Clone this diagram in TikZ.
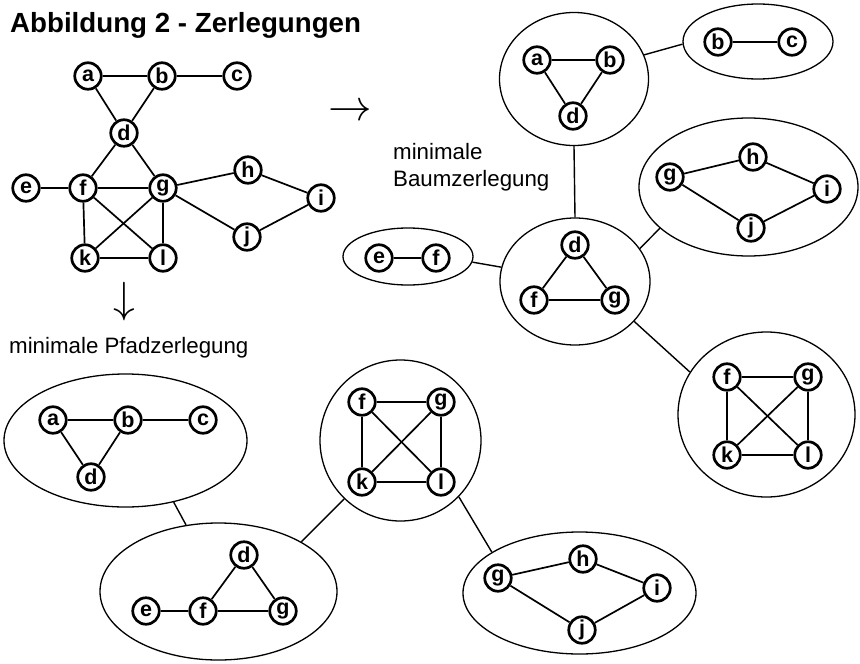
\documentclass[tikz,border=0pt]{standalone}
\usepackage{fontspec}
\setmainfont{Liberation Sans}
\usetikzlibrary{shapes.geometric}
\begin{document}
\begin{tikzpicture}[x=1pt,y=-1pt,
  vtx/.style={circle,draw,fill=white,line width=2.7pt,minimum size=26.5pt,inner sep=0pt,font=\fontsize{21.5}{21.5}\selectfont\bfseries},
  blob/.style={ellipse,draw,line width=1.3pt,inner sep=0pt},
  edg/.style={line width=1.7pt},
  link/.style={line width=1.4pt},
  lbl/.style={inner sep=0pt,anchor=base west,font=\fontsize{22.3}{26}\selectfont},
  arr/.style={inner sep=0pt,font=\fontsize{20.74}{20.74}\selectfont}]
\useasboundingbox (0,0) rectangle (860,664);

% texts
\node[inner sep=0pt,anchor=base west,font=\fontsize{27.7}{27.7}\selectfont\bfseries] (title) at (10,32.5) {Abbildung 2 - Zerlegungen};
\node[arr] (rarrow) at (350,113) {\scalebox{2.1}{$\rightarrow$}};
\node[arr] (darrow) at (124,302) {\scalebox{2.1}{$\downarrow$}};
\node[lbl] (plabel) at (9,353.3) {minimale Pfadzerlegung};
\node[lbl] (blabel1) at (393,159.3) {minimale};
\node[lbl] (blabel2) at (393,186) {Baumzerlegung};

% blobs (tree decomposition)
\node[blob,minimum width=149pt,minimum height=133pt] (TA) at (574,79) {};
\node[blob,minimum width=150pt,minimum height=75pt] (TB) at (758,41.5) {};
\node[blob,minimum width=219pt,minimum height=138pt] (TG) at (748.5,187) {};
\node[blob,minimum width=130pt,minimum height=57pt] (TE) at (408,256.5) {};
\node[blob,minimum width=150pt,minimum height=127pt] (TD) at (575,281.5) {};
\node[blob,minimum width=177pt,minimum height=165pt] (TF) at (766.5,414.5) {};
% blobs (path decomposition)
\node[blob,minimum width=243pt,minimum height=133pt] (PA) at (125.5,440.5) {};
\node[blob,minimum width=237pt,minimum height=137pt] (PD) at (218.5,591.5) {};
\node[blob,minimum width=161pt,minimum height=161pt] (PF) at (400.5,440.5) {};
\node[blob,minimum width=233pt,minimum height=122pt] (PG) at (579.5,593) {};

% connectors between blobs
\draw[link] (TA.19) -- (TB.182);
\draw[link] (TA.south) -- (TD.north);
\draw[link] (TE.-5) -- (TD.169);
\draw[link] (TD.27) -- (TG.205.6);
\draw[link] (TD.-34.5) -- (TF.151);
\draw[link] (PA.-52) -- (PD.116.7);
\draw[link] (PD.31.7) -- (PF.226);
\draw[link] (PF.-44.5) -- (PG.155.4);

% original graph
\node[vtx] (Ga) at (88,76) {a};
\node[vtx] (Gb) at (162,76) {b};
\node[vtx] (Gc) at (237,76) {c};
\node[vtx] (Gd) at (124,133) {d};
\node[vtx] (Ge) at (26,188) {e};
\node[vtx] (Gf) at (83,188) {f};
\node[vtx] (Gg) at (163,188) {g};
\node[vtx] (Gh) at (248,170) {h};
\node[vtx] (Gi) at (321,198) {i};
\node[vtx] (Gj) at (247,237) {j};
\node[vtx] (Gk) at (85,258) {k};
\node[vtx] (Gl) at (163,258) {l};

% tree decomposition vertices
\node[vtx] (TAa) at (537,60) {a};
\node[vtx] (TAb) at (610,60) {b};
\node[vtx] (TAd) at (573,116) {d};
\node[vtx] (TBb) at (718,42) {b};
\node[vtx] (TBc) at (792,42) {c};
\node[vtx] (TGg) at (670,177) {g};
\node[vtx] (TGh) at (753,157) {h};
\node[vtx] (TGi) at (827,189) {i};
\node[vtx] (TGj) at (751,228) {j};
\node[vtx] (TEe) at (379,258) {e};
\node[vtx] (TEf) at (436,258) {f};
\node[vtx] (TDd) at (575,245) {d};
\node[vtx] (TDf) at (534,300) {f};
\node[vtx] (TDg) at (615,300) {g};
\node[vtx] (TFf) at (727,377) {f};
\node[vtx] (TFg) at (808,377) {g};
\node[vtx] (TFk) at (727,455) {k};
\node[vtx] (TFl) at (808,455) {l};

% path decomposition vertices
\node[vtx] (PAa) at (53,420) {a};
\node[vtx] (PAb) at (128,420) {b};
\node[vtx] (PAc) at (203,420) {c};
\node[vtx] (PAd) at (91,477) {d};
\node[vtx] (PDd) at (244,555) {d};
\node[vtx] (PDe) at (146,611) {e};
\node[vtx] (PDf) at (203,611) {f};
\node[vtx] (PDg) at (283,611) {g};
\node[vtx] (PFf) at (362,402) {f};
\node[vtx] (PFg) at (441,402) {g};
\node[vtx] (PFk) at (362,482) {k};
\node[vtx] (PFl) at (441,482) {l};
\node[vtx] (PGg) at (498,578) {g};
\node[vtx] (PGh) at (583,559) {h};
\node[vtx] (PGi) at (657,588) {i};
\node[vtx] (PGj) at (582,630) {j};

% graph edges
\foreach \u/\v in {Ga/Gb,Gb/Gc,Ga/Gd,Gb/Gd,Gd/Gf,Gd/Gg,Ge/Gf,Gf/Gg,Gf/Gk,Gf/Gl,Gg/Gk,Gg/Gl,Gk/Gl,Gg/Gh,Gg/Gj,Gh/Gi,Gj/Gi,
  TAa/TAb,TAa/TAd,TAb/TAd,TBb/TBc,TGg/TGh,TGh/TGi,TGg/TGj,TGj/TGi,TEe/TEf,TDd/TDf,TDd/TDg,TDf/TDg,
  TFf/TFg,TFf/TFk,TFg/TFl,TFk/TFl,TFf/TFl,TFg/TFk,
  PAa/PAb,PAb/PAc,PAa/PAd,PAb/PAd,PDe/PDf,PDf/PDg,PDd/PDf,PDd/PDg,
  PFf/PFg,PFf/PFk,PFg/PFl,PFk/PFl,PFf/PFl,PFg/PFk,PGg/PGh,PGh/PGi,PGg/PGj,PGj/PGi}
  \draw[edg] (\u) -- (\v);
\end{tikzpicture}
\end{document}
